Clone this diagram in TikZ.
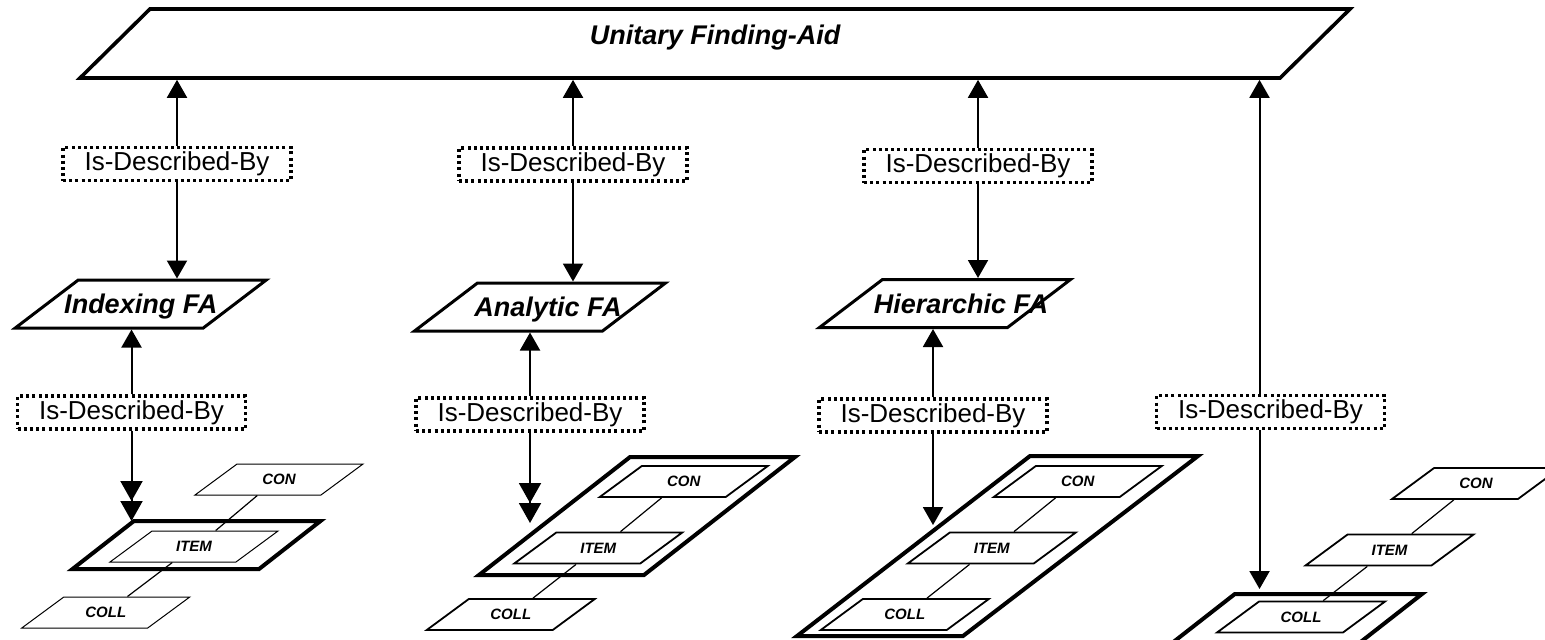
\documentclass[tikz,border=0pt]{standalone}
\usepackage{fontspec}
\setmainfont{Liberation Sans}
\usetikzlibrary{arrows.meta,shapes.geometric}

\begin{document}
\begin{tikzpicture}[
  x=0.5pt, y=-0.5pt,
  para/.style={draw, trapezium, trapezium stretches body, inner sep=0pt, fill=white},
  unit/.style={para, line width=1.8pt, trapezium left angle=44.6, trapezium right angle=135.4,
    minimum width=635pt, text height=17.6pt, text depth=16.9pt,
    font=\fontsize{13.5}{16}\selectfont\bfseries\itshape},
  fa/.style={para, line width=1.5pt, trapezium left angle=37.3, trapezium right angle=142.7,
    minimum width=125.5pt, text height=16.9pt, text depth=7.1pt,
    font=\fontsize{13.5}{16}\selectfont\bfseries\itshape},
  big/.style={para, line width=2pt, trapezium left angle=38, trapezium right angle=142, text depth=0pt},
  small/.style={para, line width=0.9pt, trapezium left angle=36.4, trapezium right angle=143.6,
    minimum width=84pt, text height=10.4pt, text depth=5.1pt,
    font=\fontsize{7.5}{9}\selectfont\bfseries\itshape},
  rel/.style={draw, fill=white, line width=1.7pt, dash pattern=on 1.5pt off 1.6pt,
    minimum width=114pt, minimum height=16.5pt, inner sep=0pt, font=\fontsize{13}{15}\selectfont},
  arr/.style={line width=1pt, -{Triangle[length=9pt,width=10pt]}},
  arrtwo/.style={line width=1pt, -{Triangle[length=10pt,width=11pt,sep=0pt] Triangle[length=10pt,width=11pt]}},
  link/.style={line width=0.6pt}
]
\useasboundingbox (0,0) rectangle (1545,639);
\clip (0,0) rectangle (1545,639);

% top level
\node[unit] (uf) at (715,43.5) {Unitary Finding-Aid};

% finding-aid types
\node[fa] (ifa) at (140.75,304) {\makebox[0pt]{Indexing FA}};
\node[fa] (afa) at (540,307) {\makebox[0pt]{\hspace*{8pt}Analytic FA}};
\node[fa] (hfa) at (945,303.5) {\makebox[0pt]{\hspace*{16pt}Hierarchic FA}};

% relation labels
\node[rel] (u1) at (177,164) {Is-Described-By};
\node[rel] (u2) at (573,164.5) {Is-Described-By};
\node[rel] (u3) at (978,166) {Is-Described-By};
\node[rel] (d1) at (131.5,412.5) {Is-Described-By};
\node[rel] (d2) at (530,414.5) {Is-Described-By};
\node[rel] (d3) at (933,415.5) {Is-Described-By};
\node[rel] (d4) at (1270.5,412) {Is-Described-By};

% described levels
\node[big, minimum width=124pt, text height=24pt] (b1) at (196.5,545) {};
\node[big, minimum width=158pt, text height=59pt] (b2) at (637,516) {};
% too steep for the trapezium shape
\draw[line width=2pt, fill=white] (1030,456) -- (1198,456) -- (963,636) -- (797,636) -- cycle;
\node[big, minimum width=132pt, text height=30pt] (b4) at (1290,624) {};

\node[small, line width=0.5pt] (con1) at (279,479.5) {CON};
\node[small, line width=0.5pt] (item1) at (194,546.5) {ITEM};
\node[small, line width=0.5pt] (coll1) at (105.75,612.5) {COLL};
\node[small] (con2) at (683.75,481.5) {CON};
\node[small] (item2) at (598.25,548) {ITEM};
\node[small] (coll2) at (510.75,614.5) {COLL};
\node[small] (con3) at (1077.75,481.5) {CON};
\node[small] (item3) at (991.75,548) {ITEM};
\node[small] (coll3) at (904.75,614.5) {COLL};
\node[small] (con4) at (1476,483.5) {CON};
\node[small] (item4) at (1389.5,550) {ITEM};
\node[small] (coll4) at (1301,617) {COLL};

\foreach \i in {1,2,3,4} {
  \draw[link] (con\i.bottom side) -- (item\i.top side);
  \draw[link] (item\i.bottom side) -- (coll\i.top side);
}

% arrows
\coordinate (t1) at (131.5,521);
\coordinate (t2) at (530,523);
\coordinate (t3) at (933,525);
\coordinate (t4) at (1259.5,589);

\draw[arr] (u1.north) -- (u1.north |- uf.south);
\draw[arr] (u2.north) -- (u2.north |- uf.south);
\draw[arr] (u3.north) -- (u3.north |- uf.south);
\draw[arr] (u1.south) -- (u1.south |- ifa.north);
\draw[arr] (u2.south) -- (u2.south |- afa.north);
\draw[arr] (u3.south) -- (u3.south |- hfa.north);
\draw[arr] (d1.north) -- (d1.north |- ifa.south);
\draw[arr] (d2.north) -- (d2.north |- afa.south);
\draw[arr] (d3.north) -- (d3.north |- hfa.south);
\draw[arr] ([xshift=-5.5pt]d4.north) -- ([xshift=-5.5pt]d4.north |- uf.south);
\draw[arrtwo] (d1.south) -- (t1);
\draw[arrtwo] (d2.south) -- (t2);
\draw[arr] (d3.south) -- (t3);
\draw[arr] ([xshift=-5.5pt]d4.south) -- (t4);
\end{tikzpicture}
\end{document}
